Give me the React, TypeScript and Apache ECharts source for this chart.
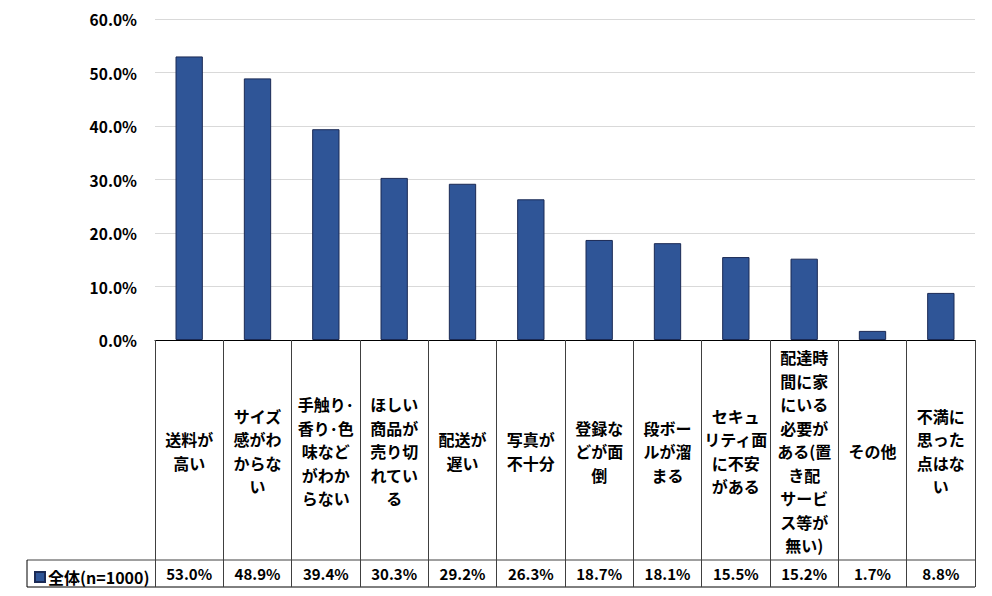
import React, { useEffect, useRef } from "react";
import * as echarts from "echarts";

const categories = [
  "送料が\n高い",
  "サイズ\n感がわ\nからな\nい",
  "手触り･\n香り･色\n味など\nがわか\nらない",
  "ほしい\n商品が\n売り切\nれてい\nる",
  "配送が\n遅い",
  "写真が\n不十分",
  "登録な\nどが面\n倒",
  "段ボー\nルが溜\nまる",
  "セキュ\nリティ面\nに不安\nがある",
  "配達時\n間に家\nにいる\n必要が\nある(置\nき配\nサービ\nス等が\n無い)",
  "その他",
  "不満に\n思った\n点はな\nい",
];
const values = [53.0, 48.9, 39.4, 30.3, 29.2, 26.3, 18.7, 18.1, 15.5, 15.2, 1.7, 8.8];
const seriesName = "全体(n=1000)";
const yTicks = { min: 0, max: 60, interval: 10 };

const FONT = "'Noto Sans CJK JP', 'Noto Sans', sans-serif";

export default function App() {
  const ref = useRef<HTMLDivElement>(null);
  useEffect(() => {
    const chart = echarts.init(ref.current!, null, { renderer: "svg" });
    const L = 155, R = 975, T = 19, AX = 340;
    const ROW1 = 560, ROW2 = 587, LEFTX = 27;
    chart.setOption({
      animation: false,
      grid: { left: L, right: 992 - R, top: T, bottom: 596 - AX },
      legend: {
        left: 29,
        top: 564,
        itemWidth: 10,
        itemHeight: 10,
        itemGap: 4,
        icon: "rect",
        textStyle: { fontFamily: FONT, fontWeight: "bold", fontSize: 16, color: "#000", padding: [0, 0, 0, -2] },
        data: [seriesName],
      },
      xAxis: [
        {
          type: "category",
          data: categories,
          axisLine: { lineStyle: { color: "#000", width: 1 } },
          axisTick: { show: true, length: ROW2 - AX, lineStyle: { color: "#404040" }, interval: 0 },
          axisLabel: {
            interval: 0,
            margin: (ROW1 - AX) / 2 + 1,
            verticalAlign: "middle",
            fontFamily: FONT,
            fontWeight: "bold",
            fontSize: 16,
            lineHeight: 23.5,
            color: "#000",
            align: "center",
          },
        },
        {
          type: "category",
          position: "bottom",
          data: values.map((v) => v.toFixed(1) + "%"),
          axisLine: { show: false },
          axisTick: { show: false },
          axisLabel: {
            interval: 0,
            margin: (ROW1 + ROW2) / 2 - AX,
            verticalAlign: "middle",
            fontFamily: FONT,
            fontWeight: "bold",
            fontSize: 15,
            color: "#000",
          },
        },
      ],
      yAxis: {
        type: "value",
        min: yTicks.min,
        max: yTicks.max,
        interval: yTicks.interval,
        axisLine: { show: false },
        axisTick: { show: false },
        splitLine: { lineStyle: { color: "#d9d9d9" } },
        axisLabel: {
          formatter: (v: number) => v.toFixed(1) + "%",
          margin: 18,
          fontFamily: FONT,
          fontWeight: "bold",
          fontSize: 15.5,
          color: "#000",
        },
      },
      series: [
        {
          name: seriesName,
          type: "bar",
          data: values,
          barWidth: "40%",
          itemStyle: { color: "#2f5597", borderColor: "#1b2a55", borderWidth: 1 },
        },
      ],
      graphic: [
        { type: "line", shape: { x1: LEFTX, y1: ROW1, x2: R, y2: ROW1 }, style: { stroke: "#404040", lineWidth: 1 } },
        { type: "line", shape: { x1: LEFTX, y1: ROW2, x2: R, y2: ROW2 }, style: { stroke: "#000", lineWidth: 1 } },
        { type: "line", shape: { x1: LEFTX, y1: ROW1, x2: LEFTX, y2: ROW2 }, style: { stroke: "#000", lineWidth: 1 } },
      ],
    });
    return () => chart.dispose();
  }, []);
  return (
    <div
      ref={ref}
      style={{ position: "fixed", left: 0, top: 0, width: 992, height: 596, background: "#fff" }}
    />
  );
}
